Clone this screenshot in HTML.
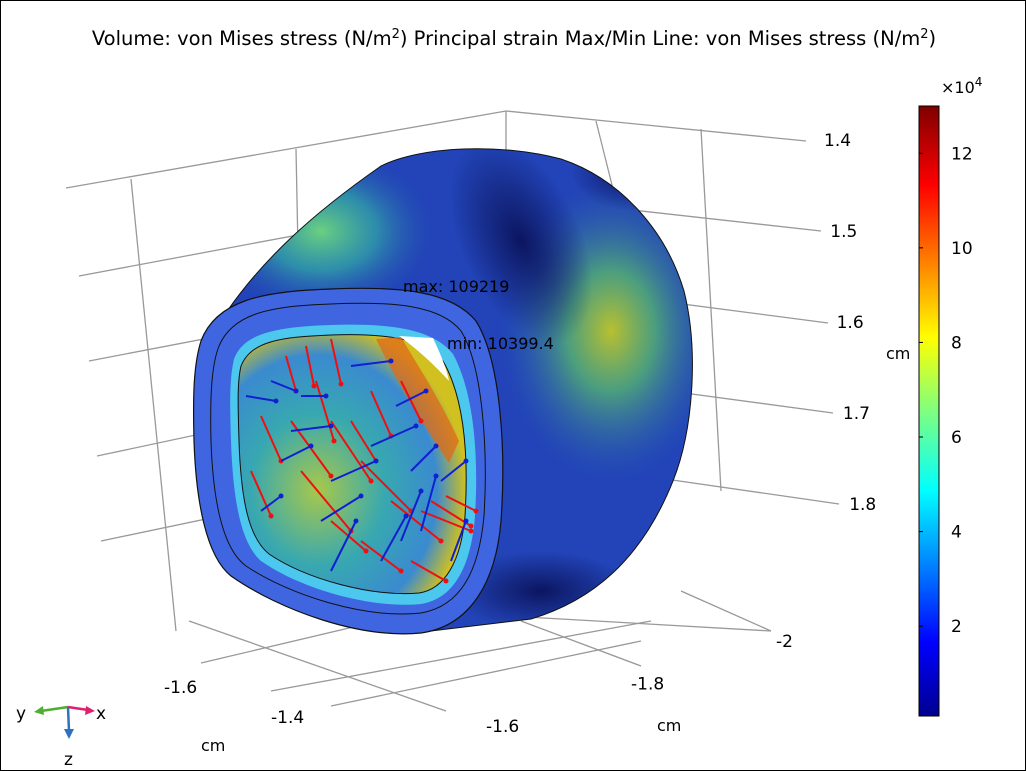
<!DOCTYPE html>
<html><head><meta charset="utf-8"><style>
body{margin:0;background:#fff;}
#frame{position:relative;width:1024px;height:769px;border:1px solid #000;overflow:hidden;background:#fff;font-family:"DejaVu Sans","Liberation Sans",sans-serif;}
</style></head><body>
<div id="frame">
<svg id="s" width="1026" height="771" viewBox="0 0 1026 771" xmlns="http://www.w3.org/2000/svg">
<defs>
<linearGradient id="jet" x1="0" y1="1" x2="0" y2="0">
<stop offset="0" stop-color="#00008f"/><stop offset="0.12" stop-color="#0000ff"/><stop offset="0.37" stop-color="#00ffff"/><stop offset="0.5" stop-color="#7fff7f"/><stop offset="0.62" stop-color="#ffff00"/><stop offset="0.87" stop-color="#ff0000"/><stop offset="1" stop-color="#7f0000"/>
</linearGradient>
<radialGradient id="spot" cx="0.5" cy="0.5" r="0.5">
<stop offset="0" stop-color="#b8c030"/><stop offset="0.4" stop-color="#50a878" stop-opacity="0.9"/><stop offset="1" stop-color="#2a60b0" stop-opacity="0"/>
</radialGradient>
<radialGradient id="spot2" cx="0.5" cy="0.5" r="0.5">
<stop offset="0" stop-color="#6ad080"/><stop offset="0.5" stop-color="#30a0a8" stop-opacity="0.8"/><stop offset="1" stop-color="#2a60b0" stop-opacity="0"/>
</radialGradient>
<radialGradient id="dark" cx="0.5" cy="0.5" r="0.5">
<stop offset="0" stop-color="#0c1660"/><stop offset="1" stop-color="#0c1660" stop-opacity="0"/>
</radialGradient>
<radialGradient id="cavg" cx="0.35" cy="0.6" r="0.65">
<stop offset="0" stop-color="#a8c84a"/><stop offset="0.45" stop-color="#38a8b0"/><stop offset="0.8" stop-color="#3a8ad0"/><stop offset="1" stop-color="#d0c020"/>
</radialGradient>
<clipPath id="bodyclip"><path d="M205,345 C250,260 330,200 380,165 C420,145 500,142 560,158 C620,178 665,230 683,290 C698,350 692,430 672,480 C640,560 590,600 530,618 L430,630 Z"/></clipPath>
</defs>
<g id="grid" stroke="#999" stroke-width="1.3" fill="none">
<polyline points="65,187 505,110 805,140"/>
<polyline points="78,275 505,195 820,230"/>
<polyline points="88,360 505,280 827,322"/>
<polyline points="96,455 505,368 832,412"/>
<polyline points="100,540 505,455 838,503"/>
<line x1="130" y1="178" x2="175" y2="630"/><line x1="295" y1="148" x2="300" y2="400"/><line x1="505" y1="110" x2="505" y2="455"/>
<line x1="595" y1="120" x2="615" y2="200"/><line x1="700" y1="128" x2="720" y2="490"/>
<polyline points="188,620 445,710"/><polyline points="200,662 420,610 770,630"/><polyline points="270,690 650,620"/><polyline points="330,705 640,640"/>
<line x1="520" y1="620" x2="640" y2="665"/><line x1="680" y1="590" x2="770" y2="630"/>
</g>
<g>
<path d="M205,345 C250,260 330,200 380,165 C420,145 500,142 560,158 C620,178 665,230 683,290 C698,350 692,430 672,480 C640,560 590,600 530,618 L430,630 Z" fill="#2244b8"/>
<g clip-path="url(#bodyclip)">
<ellipse cx="610" cy="330" rx="110" ry="150" fill="url(#spot)"/>
<ellipse cx="320" cy="230" rx="110" ry="80" fill="url(#spot2)"/>
<ellipse cx="520" cy="240" rx="60" ry="110" fill="url(#dark)" transform="rotate(-25 520 240)"/>
<ellipse cx="630" cy="170" rx="60" ry="40" fill="url(#dark)"/>
<ellipse cx="540" cy="590" rx="90" ry="40" fill="url(#dark)"/>
</g>
<path d="M205,345 C250,260 330,200 380,165 C420,145 500,142 560,158 C620,178 665,230 683,290 C698,350 692,430 672,480 C640,560 590,600 530,618 L430,630 Z" fill="none" stroke="#111" stroke-width="1"/>
</g>
<g>
<path d="M200,340 C215,300 260,290 330,288 C400,285 450,290 475,320 C500,360 505,450 500,520 C495,580 470,625 420,632 C360,638 280,610 230,575 C205,555 195,500 193,440 C192,400 192,365 200,340 Z" fill="#3f66e0" stroke="#111" stroke-width="1.2"/>
<path d="M218,345 C232,312 270,305 330,303 C395,300 440,305 460,330 C482,365 487,450 483,515 C478,570 460,605 420,612 C365,618 290,595 245,565 C222,548 212,500 210,440 C209,400 210,365 218,345 Z" fill="none" stroke="#111" stroke-width="1"/>
<path d="M233,358 C243,332 275,326 330,324 C390,322 432,328 452,353 C472,390 478,450 474,515 C470,567 452,598 420,603 C370,608 300,588 260,560 C240,542 232,500 230,440 C229,405 228,380 233,358 Z" fill="#4fd8f0" opacity="0.85"/>
<path d="M240,365 C250,340 280,336 330,334 C385,332 425,338 442,360 C462,395 468,450 464,515 C460,560 444,588 418,592 C370,596 305,578 268,553 C248,537 240,500 238,440 C237,405 236,382 240,365 Z" fill="url(#cavg)" stroke="#111" stroke-width="1"/>
<path d="M375,338 L400,336 C420,370 440,400 458,440 L448,462 C420,420 395,380 375,338 Z" fill="#e06a18" opacity="0.75"/>
<path d="M398,335 L432,337 C438,350 445,365 448,380 C430,360 412,345 398,335 Z" fill="#fff"/>
</g>
<g id="arrows"></g>
<text x="402" y="291" font-size="16" fill="#000">max: 109219</text>
<text x="446" y="348" font-size="16" fill="#000">min: 10399.4</text>
<text x="513" y="44" font-size="19.5" text-anchor="middle" fill="#000">Volume: von Mises stress (N/m<tspan dy="-7" font-size="13">2</tspan><tspan dy="7">) Principal strain  Max/Min Line: von Mises stress (N/m</tspan><tspan dy="-7" font-size="13">2</tspan><tspan dy="7">)</tspan></text>
<rect x="918" y="105" width="20" height="610" fill="url(#jet)" stroke="#000" stroke-width="1"/>
<text x="940" y="92" font-size="16">×10<tspan dy="-7" font-size="12">4</tspan></text>
<g id="cbticks" font-size="17"></g>
<g id="axticks" font-size="17"></g>
<text x="885" y="358" font-size="16">cm</text>
<text x="656" y="730" font-size="16">cm</text>
<text x="200" y="750" font-size="16">cm</text>
<g>
<line x1="67" y1="706" x2="40" y2="710" stroke="#4caf30" stroke-width="2.5"/><polygon points="33,711 42,705 43,714" fill="#4caf30"/>
<line x1="67" y1="706" x2="87" y2="709" stroke="#e0206a" stroke-width="2.5"/><polygon points="94,710 85,705 84,714" fill="#e0206a"/>
<line x1="67" y1="706" x2="68" y2="730" stroke="#3070c0" stroke-width="2.5"/><polygon points="68,738 63,728 73,728" fill="#3070c0"/>
<text x="15" y="718" font-size="17">y</text><text x="95" y="718" font-size="17">x</text><text x="63" y="764" font-size="17">z</text>
</g>
</svg></div>
<script>
const cbLabels=["2","4","6","8","10","12"];
const cbValues=[2,4,6,8,10,12];
const cbMin=0.1, cbMax=13.0;
const zTicks=["1.4","1.5","1.6","1.7","1.8"];
const xTicks=["-2","-1.8","-1.6"];
const yTicks=["-1.6","-1.4"];
const NS="http://www.w3.org/2000/svg";
function cbY(v){return 715-(v-cbMin)/(cbMax-cbMin)*610;}
const cb=document.getElementById('cbticks');
cbValues.forEach((v,i)=>{
 const l=document.createElementNS(NS,'line');
 l.setAttribute('x1',918);l.setAttribute('x2',922);l.setAttribute('y1',cbY(v));l.setAttribute('y2',cbY(v));l.setAttribute('stroke','#000');
 
 
 cb.appendChild(l);
 const t=document.createElementNS(NS,'text');
 t.setAttribute('x',950);t.setAttribute('y',cbY(v)+6);t.textContent=cbLabels[i];
 
 
 cb.appendChild(t);
});
const ax=document.getElementById('axticks');
function addT(x,y,s,n){const t=document.createElementNS(NS,'text');t.setAttribute('x',x);t.setAttribute('y',y);t.textContent=s;
 
 
 ax.appendChild(t);}
zTicks.forEach((s,i)=>addT(823+i*6.3,145+i*91,s,'z-tick-label'));
xTicks.forEach((s,i)=>addT(775-i*145,646+i*42.5,s,'x-tick-label'));
yTicks.forEach((s,i)=>addT(163+i*107,692+i*30,s,'y-tick-label'));
// strain arrows: [x, y, dx, dy]
const redArrows=[[285,355,10,35],[305,345,8,40],[330,338,10,45],[315,380,18,60],[330,420,40,60],[300,470,50,60],[290,420,40,55],[360,460,50,50],[390,500,50,40],[420,510,50,20],[445,495,30,15],[370,390,20,45],[350,420,25,40],[260,415,20,45],[250,470,20,45],[410,560,35,20],[360,540,40,30],[330,520,35,30],[400,380,20,40],[430,500,40,25]];
const blueArrows=[[245,395,30,5],[270,380,25,10],[300,395,25,0],[290,430,40,-5],[280,460,30,-15],[330,480,45,-20],[320,520,40,-25],[370,445,45,-20],[410,470,25,-25],[380,560,25,-45],[330,570,25,-50],[400,540,20,-50],[420,530,15,-55],[450,560,15,-40],[260,510,20,-15],[350,365,40,-5],[395,405,30,-15],[440,480,25,-20]];
const ag=document.getElementById('arrows');
function arr(a,c){
 const l=document.createElementNS(NS,'line');
 l.setAttribute('x1',a[0]);l.setAttribute('y1',a[1]);l.setAttribute('x2',a[0]+a[2]);l.setAttribute('y2',a[1]+a[3]);
 l.setAttribute('stroke',c);l.setAttribute('stroke-width',2);
 
 
 ag.appendChild(l);
 const d=document.createElementNS(NS,'circle');
 d.setAttribute('cx',a[0]+a[2]);d.setAttribute('cy',a[1]+a[3]);d.setAttribute('r',2.5);d.setAttribute('fill',c);
 
 
 ag.appendChild(d);
}
redArrows.forEach(a=>arr(a,'#ee1010'));
blueArrows.forEach(a=>arr(a,'#1020d0'));
</script>
</body></html>
